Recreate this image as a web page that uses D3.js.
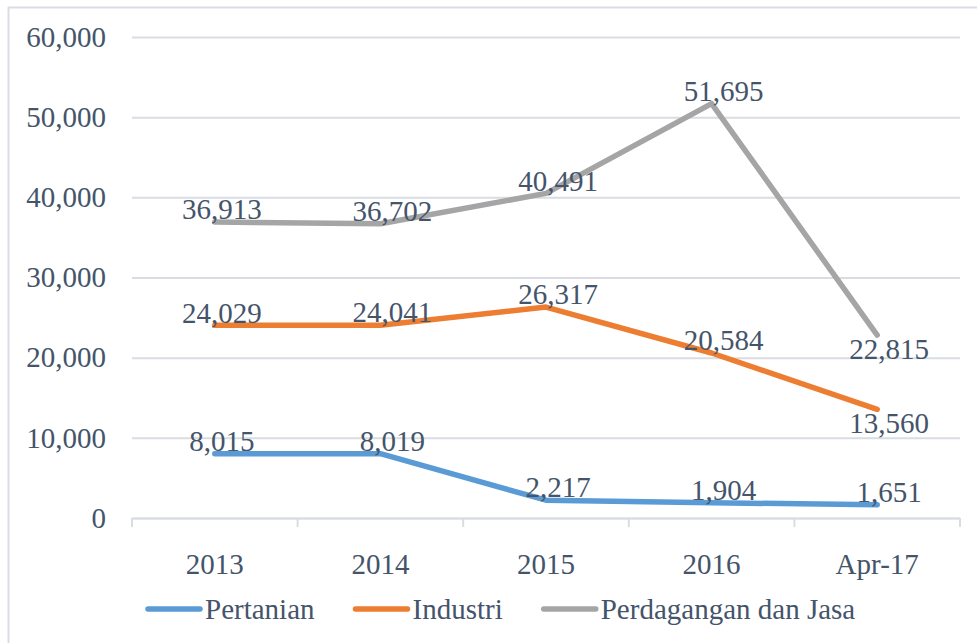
<!DOCTYPE html>
<html>
<head>
<meta charset="utf-8">
<script src="https://cdn.jsdelivr.net/npm/d3@7"></script>
<style>
  html, body { margin: 0; padding: 0; background: #fff; }
  svg { display: block; }
  text { font-family: "Liberation Serif", "Times New Roman", serif; fill: #44546a; }
</style>
</head>
<body>
<div id="chart"></div>
<script>
// data
const categories = ['2013', '2014', '2015', '2016', 'Apr-17']
const seriesNames = ['Pertanian', 'Industri', 'Perdagangan dan Jasa']
const pertanian = [8015, 8019, 2217, 1904, 1651]
const industri = [24029, 24041, 26317, 20584, 13560]
const perdagangan = [36913, 36702, 40491, 51695, 22815]
const yTicks = [0, 10000, 20000, 30000, 40000, 50000, 60000]

const colors = ['#5b9bd5', '#ed7d31', '#a5a5a5']
const allSeries = [pertanian, industri, perdagangan]
// which labels sit under the line instead of over it
const labelBelow = [
  [false, false, false, false, false],
  [false, false, false, false, true],
  [false, false, false, false, true]
]

const W = 977
const H = 643
const fontSize = 29
const margin = { t: 37, r: 17, b: 125, l: 132 }
const innerWidth = W - margin.l - margin.r
const innerHeight = H - margin.t - margin.b

const svg = d3.select('#chart')
  .append('svg')
  .attr('width', W)
  .attr('height', H)

// chart frame
svg.append('rect')
  .attr('x', 8.5)
  .attr('y', 7.5)
  .attr('width', W + 20)
  .attr('height', H + 20)
  .attr('fill', 'none')
  .attr('stroke', '#d9dde3')
  .attr('stroke-width', 2)

const scaleX = d3.scaleBand().domain(categories).range([0, innerWidth])
const scaleY = d3.scaleLinear().domain([0, 60000]).range([innerHeight, 0])

const plot = svg.append('g')
  .attr('class', 'plot')
  .attr('transform', `translate(${margin.l}, ${margin.t})`)

// gridlines + y labels
const axisY = d3.axisLeft(scaleY)
  .tickValues(yTicks)
  .tickSize(-innerWidth)
  .tickPadding(26)
  .tickFormat(d3.format(','))

plot.append('g')
  .attr('class', 'axis axis-y')
  .call(axisY)
  .call(g => g.select('.domain').remove())
  .call(g => g.selectAll('line').attr('stroke', '#d9dde3').attr('stroke-width', 2))
  .call(g => g.selectAll('text')
    .attr('font-size', fontSize)
    .attr('fill', '#44546a'))

// x axis with ticks between categories
const axisX = d3.axisBottom(scaleX).tickSize(0).tickPadding(35)
const gx = plot.append('g')
  .attr('class', 'axis axis-x')
  .attr('transform', `translate(0, ${innerHeight})`)
  .call(axisX)

gx.select('.domain').attr('stroke', '#d9dde3').attr('stroke-width', 2)
gx.selectAll('text')
  .attr('font-size', fontSize)
  .attr('fill', '#44546a')

const boundaries = categories.map(c => scaleX(c)).concat([innerWidth])
gx.selectAll('.sep')
  .data(boundaries)
  .enter()
  .append('line')
  .attr('class', 'sep')
  .attr('x1', d => d)
  .attr('x2', d => d)
  .attr('y1', 0)
  .attr('y2', 9)
  .attr('stroke', '#d9dde3')
  .attr('stroke-width', 2)

const cx = c => scaleX(c) + scaleX.bandwidth() / 2

const line = d3.line()
  .x((d, i) => cx(categories[i]))
  .y(d => scaleY(d))

plot.selectAll('.series')
  .data(allSeries)
  .enter()
  .append('path')
  .attr('class', 'series')
  .attr('d', d => line(d))
  .attr('fill', 'none')
  .attr('stroke', (d, i) => colors[i])
  .attr('stroke-width', 5.5)
  .attr('stroke-linejoin', 'round')
  .attr('stroke-linecap', 'round')

// data labels
allSeries.forEach((values, s) => {
  plot.selectAll('.lbl-' + s)
    .data(values)
    .enter()
    .append('text')
    .attr('class', 'lbl-' + s)
    .attr('x', (d, i) => cx(categories[i]) + (i === 0 ? 7 : 12))
    .attr('y', (d, i) => scaleY(d) + (labelBelow[s][i] ? 14 : -13))
    .attr('dy', '0.35em')
    .attr('text-anchor', 'middle')
    .attr('font-size', fontSize)
    .text(d => d3.format(',')(d))
})

// legend
const legend = svg.append('g')
  .attr('class', 'legend')
  .attr('transform', `translate(146, 609)`)

let lx = 0
seriesNames.forEach((name, i) => {
  legend.append('line')
    .attr('x1', lx + 2)
    .attr('x2', lx + 54)
    .attr('y1', 0)
    .attr('y2', 0)
    .attr('stroke', colors[i])
    .attr('stroke-width', 5.5)
    .attr('stroke-linecap', 'round')
  const t = legend.append('text')
    .attr('x', lx + 59)
    .attr('y', 0)
    .attr('dy', '0.35em')
    .attr('font-size', fontSize)
    .text(name)
  lx += 59 + t.node().getComputedTextLength() + 39
})
</script>
</body>
</html>
